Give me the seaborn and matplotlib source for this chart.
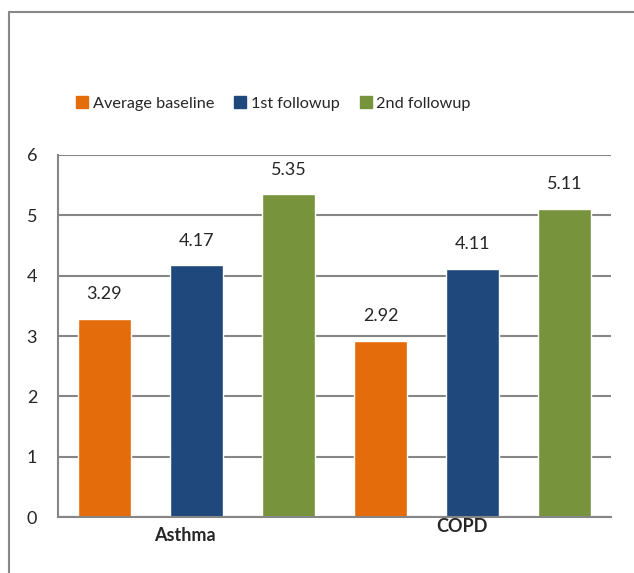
import pandas as pd
import matplotlib
matplotlib.use('Agg')
import matplotlib.pyplot as plt
from matplotlib.lines import Line2D
import seaborn as sns

# chart values
diseases = ['Asthma', 'COPD']
phases = ['Average baseline', '1st followup', '2nd followup']
baseline = [3.29, 2.92]
followup1 = [4.17, 4.11]
followup2 = [5.35, 5.11]
colors = ['#E46C0A', '#1F497D', '#77933C']

df = pd.DataFrame({
    'disease': diseases * 3,
    'phase': [p for p in phases for _ in diseases],
    'value': baseline + followup1 + followup2,
})

sns.set_style('white')
plt.rcParams['font.family'] = ['Lato', 'DejaVu Sans']

fig = plt.figure(figsize=(6.34, 5.73), dpi=100)
ax = fig.add_axes([0.0915, 0.0977, 0.872, 0.6318])

sns.barplot(data=df, x='disease', y='value', hue='phase', palette=colors,
            width=1.0, gap=0.424, saturation=1, ax=ax, legend=False)

ax.set_ylim(0, 6)
ax.set_xlim(-0.5, 1.5)
ax.set_yticks(range(7))
ax.yaxis.grid(True, color='#868686', linewidth=1.5)
ax.set_axisbelow(True)
for s in ['top', 'right']:
    ax.spines[s].set_visible(False)
for s in ['left', 'bottom']:
    ax.spines[s].set_color('#868686')
    ax.spines[s].set_linewidth(1.5)
ax.tick_params(axis='y', labelsize=13, pad=15, length=0)
ax.set_xticks([])
ax.set_xlabel('')
ax.set_ylabel('')

# value labels
for cont in ax.containers:
    for bar in cont:
        h = bar.get_height()
        ax.annotate(f'{h:.2f}', (bar.get_x() + bar.get_width() / 2, h),
                    xytext=(0, 12), textcoords='offset points',
                    ha='center', va='bottom', fontsize=13)

# category labels (offsets as in the original)
ax.text(-0.04, -0.05, diseases[0], transform=ax.get_xaxis_transform(),
        ha='center', va='center', fontsize=13, fontweight='bold')
ax.text(0.96, -0.025, diseases[1], transform=ax.get_xaxis_transform(),
        ha='center', va='center', fontsize=13, fontweight='bold')

handles = [Line2D([0], [0], marker='s', linestyle='none', markersize=8,
                  markerfacecolor=c, markeredgecolor=c) for c in colors]
fig.legend(handles, phases, loc='center left', bbox_to_anchor=(0.094, 0.819),
           ncol=3, frameon=False, fontsize=11.7, handletextpad=0.15,
           columnspacing=1.1, handlelength=1.0)

# outer frame
fig.add_artist(Line2D([9 / 634, 1], [1 - 12 / 573, 1 - 12 / 573],
                      transform=fig.transFigure, color='#888888', linewidth=1.5))
fig.add_artist(Line2D([9 / 634, 9 / 634], [0, 1 - 12 / 573],
                      transform=fig.transFigure, color='#888888', linewidth=1.5))

fig.savefig('out.png', dpi=100)
